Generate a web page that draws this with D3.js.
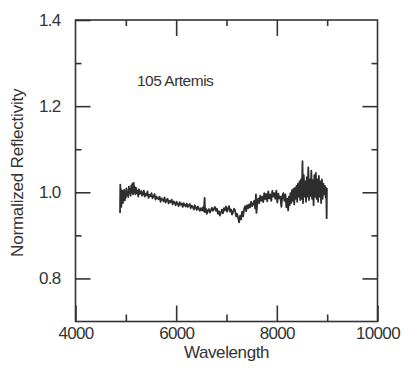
<!DOCTYPE html>
<html>
<head>
<meta charset="utf-8">
<script src="https://cdn.jsdelivr.net/npm/d3@7"></script>
<style>
  body { margin: 0; background: #fff; }
  svg text { font-family: "Liberation Sans", Arial, sans-serif; fill: #333; }
</style>
</head>
<body>
<svg id="chart" width="404" height="369"></svg>
<script>
// spectrum
var wavelength = [
  4885, 4890, 4896, 4902, 4910, 4918, 4926, 4934, 4942, 4950, 4960, 4970, 4980, 4990,
  5000, 5012, 5024, 5036, 5048, 5060, 5072, 5084, 5096, 5108, 5120, 5132, 5144, 5156,
  5168, 5180, 5192, 5204, 5218, 5232, 5246, 5260, 5276, 5292, 5308, 5324, 5340, 5358,
  5376, 5394, 5412, 5430, 5450, 5470, 5490, 5510, 5530, 5550, 5570, 5590, 5610, 5630,
  5650, 5670, 5690, 5710, 5730, 5750, 5770, 5790, 5810, 5830, 5850, 5870, 5890, 5910,
  5930, 5950, 5970, 5990, 6010, 6030, 6050, 6070, 6090, 6110, 6130, 6150, 6170, 6190,
  6210, 6230, 6250, 6270, 6290, 6310, 6330, 6350, 6370, 6390, 6410, 6430, 6450, 6470,
  6490, 6510, 6530, 6550, 6565, 6575, 6590, 6610, 6630, 6650, 6670, 6690, 6710, 6730,
  6750, 6770, 6790, 6810, 6830, 6850, 6870, 6890, 6910, 6930, 6950, 6970, 6990, 7010,
  7030, 7050, 7070, 7090, 7110, 7130, 7150, 7170, 7190, 7210, 7230, 7250, 7270, 7290,
  7310, 7330, 7350, 7370, 7390, 7410, 7430, 7450, 7470, 7490, 7510, 7530, 7550, 7570,
  7585, 7595, 7610, 7630, 7650, 7670, 7690, 7710, 7730, 7750, 7770, 7790, 7810, 7830,
  7850, 7870, 7890, 7910, 7930, 7950, 7970, 7990, 8010, 8030, 8050, 8070, 8090, 8110,
  8130, 8150, 8170, 8190, 8210, 8225, 8240, 8255, 8270, 8285, 8300, 8315, 8330, 8345,
  8360, 8375, 8390, 8405, 8420, 8435, 8450, 8465, 8480, 8495, 8510, 8520, 8535, 8550,
  8565, 8580, 8595, 8610, 8625, 8640, 8655, 8670, 8685, 8700, 8715, 8730, 8745, 8760,
  8775, 8790, 8805, 8820, 8835, 8850, 8865, 8880, 8895, 8910, 8925, 8940, 8955, 8970,
  8980, 8990, 8995
];
var reflectivity = [
  0.952, 1.018, 0.972, 1.008, 0.966, 0.996, 0.982, 1.004, 0.975, 0.994, 0.985, 1.006, 0.981, 1.000,
  0.987, 1.009, 0.994, 1.000, 0.989, 1.013, 0.998, 1.008, 0.992, 1.016, 1.000, 1.020, 0.995, 1.022,
  0.999, 1.012, 0.995, 1.010, 0.998, 1.004, 0.990, 1.007, 0.996, 0.999, 1.003, 0.992, 0.996, 1.004,
  0.990, 0.997, 0.993, 1.002, 0.987, 0.994, 0.991, 0.998, 0.986, 0.990, 0.996, 0.983, 0.990, 0.986,
  0.984, 0.990, 0.978, 0.986, 0.983, 0.979, 0.988, 0.976, 0.982, 0.985, 0.974, 0.980, 0.977, 0.983,
  0.972, 0.979, 0.976, 0.970, 0.978, 0.973, 0.968, 0.977, 0.971, 0.974, 0.966, 0.975, 0.970, 0.967,
  0.974, 0.966, 0.970, 0.973, 0.963, 0.969, 0.966, 0.960, 0.970, 0.964, 0.959, 0.967, 0.962, 0.957,
  0.963, 0.958, 0.965, 0.956, 0.987, 0.954, 0.962, 0.950, 0.958, 0.961, 0.953, 0.958, 0.964, 0.957,
  0.962, 0.966, 0.957, 0.962, 0.950, 0.956, 0.946, 0.953, 0.960, 0.951, 0.963, 0.958, 0.967, 0.955,
  0.962, 0.968, 0.955, 0.960, 0.948, 0.954, 0.962, 0.958, 0.944, 0.950, 0.941, 0.930, 0.946, 0.937,
  0.955, 0.944, 0.961, 0.968, 0.956, 0.970, 0.963, 0.972, 0.965, 0.978, 0.968, 0.973, 0.980, 0.962,
  0.995, 0.952, 0.972, 0.986, 0.975, 0.992, 0.980, 0.990, 0.977, 0.998, 0.984, 0.996, 0.979, 1.002,
  0.986, 0.995, 0.980, 1.003, 0.990, 0.998, 0.985, 1.004, 0.976, 0.997, 0.986, 0.990, 0.966, 0.992,
  0.998, 0.980, 0.995, 0.965, 0.985, 0.958, 0.990, 0.970, 0.998, 0.975, 1.005, 0.980, 1.008, 0.972,
  1.010, 0.985, 1.015, 0.978, 1.020, 0.990, 1.025, 0.982, 1.030, 0.985, 1.072, 0.975, 1.040, 0.990,
  1.025, 0.978, 1.035, 0.990, 1.058, 0.982, 1.030, 0.992, 1.050, 0.985, 1.028, 0.970, 1.040, 0.990,
  1.045, 0.985, 1.030, 0.978, 1.038, 0.990, 1.025, 0.975, 1.030, 0.985, 1.020, 0.995, 1.015, 0.988,
  1.010, 0.940, 1.010
];
var xMajor = [4000, 6000, 8000, 10000];
var xMinor = [5000, 7000, 9000];
var yMajor = [0.8, 1.0, 1.2, 1.4];
var yMinor = [0.9, 1.1, 1.3];
var label = "105 Artemis";

var svg = d3.select("#chart");
// plot box (note: "top" is taken by window.top, so use other names)
var pLeft = 75.5, pRight = 377.5, pTop = 20, pBottom = 321.5;
var ink = "#333";

var x = d3.scaleLinear().domain([4000, 10000]).range([pLeft, pRight]);
var y = d3.scaleLinear().domain([0.7, 1.4]).range([pBottom, pTop]);

function tidy(g){
  g.select(".domain").remove();
  g.selectAll("line").attr("stroke", ink).attr("stroke-width", 1.6);
  g.selectAll("text").attr("fill", ink).style("font-size", "17px").style("letter-spacing", "-0.7px");
}

// major ticks + labels, bottom and left
svg.append("g").attr("transform", "translate(0," + pBottom + ")")
  .call(d3.axisBottom(x).tickValues(xMajor).tickSizeInner(-16).tickSizeOuter(0).tickPadding(5).tickFormat(d3.format("d")))
  .call(tidy);
svg.append("g").attr("transform", "translate(" + pLeft + ",0)")
  .call(d3.axisLeft(y).tickValues(yMajor).tickSizeInner(-15).tickSizeOuter(0).tickPadding(15).tickFormat(d3.format(".1f")))
  .call(tidy);

// the rest of the ticks, no labels
var plain = [
  [d3.axisBottom(x).tickValues(xMinor).tickSizeInner(-7), "translate(0," + pBottom + ")"],
  [d3.axisTop(x).tickValues(xMajor.slice(1, 3)).tickSizeInner(-16), "translate(0," + pTop + ")"],
  [d3.axisTop(x).tickValues(xMinor).tickSizeInner(-6), "translate(0," + pTop + ")"],
  [d3.axisLeft(y).tickValues(yMinor).tickSizeInner(-6), "translate(" + pLeft + ",0)"],
  [d3.axisRight(y).tickValues(yMajor.slice(0, 3)).tickSizeInner(-15), "translate(" + pRight + ",0)"],
  [d3.axisRight(y).tickValues(yMinor).tickSizeInner(-6), "translate(" + pRight + ",0)"]
];
plain.forEach(function(p){
  svg.append("g").attr("transform", p[1])
    .call(p[0].tickSizeOuter(0).tickFormat(""))
    .call(tidy);
});

// frame
svg.append("rect")
  .attr("x", pLeft).attr("y", pTop)
  .attr("width", pRight - pLeft).attr("height", pBottom - pTop)
  .attr("fill", "none").attr("stroke", ink).attr("stroke-width", 1.6);

// spectrum
var pts = wavelength.map(function(w, i){ return [w, reflectivity[i]]; });
svg.append("path")
  .datum(pts)
  .attr("d", d3.line().x(function(d){ return x(d[0]); }).y(function(d){ return y(d[1]); }))
  .attr("fill", "none")
  .attr("stroke", "#2e2e2e")
  .attr("stroke-width", 1.8)
  .attr("stroke-linejoin", "round");

svg.append("text")
  .attr("x", 137).attr("y", 86)
  .style("font-size", "15.5px").style("letter-spacing", "-0.5px")
  .text(label);

svg.append("text")
  .attr("x", (pLeft + pRight) / 2).attr("y", 358)
  .attr("text-anchor", "middle")
  .style("font-size", "17px").style("letter-spacing", "-0.4px")
  .text("Wavelength");

svg.append("text")
  .attr("transform", "translate(23," + ((pTop + pBottom) / 2 + 2) + ") rotate(-90)")
  .attr("text-anchor", "middle")
  .style("font-size", "17px").style("letter-spacing", "-0.2px")
  .text("Normalized Reflectivity");
</script>
</body>
</html>
